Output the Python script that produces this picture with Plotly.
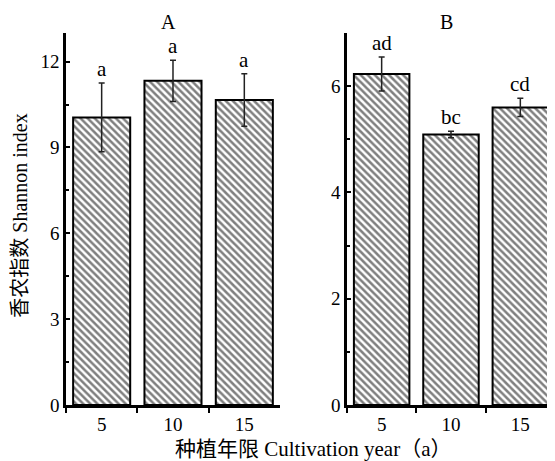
import plotly.graph_objects as go

years = ["5", "10", "15"]
a_values = [10.05, 11.33, 10.66]
a_err = [1.2, 0.72, 0.92]
a_letters = ["a", "a", "a"]
b_values = [6.23, 5.09, 5.60]
b_err = [0.32, 0.06, 0.17]
b_letters = ["ad", "bc", "cd"]

FONT = "Liberation Serif, Times New Roman, Noto Sans CJK SC, serif"

fig = go.Figure()

def bar(x, y, err, xa, ya):
    return go.Bar(
        x=x, y=y, xaxis=xa, yaxis=ya, width=0.8,
        marker=dict(color="white", line=dict(color="black", width=2),
                    pattern=dict(shape="\\", size=5, solidity=0.5,
                                 fgcolor="black", bgcolor="white")),
        error_y=dict(type="data", array=err, visible=True, color="#222",
                     thickness=1.5, width=3),
        showlegend=False,
    )

fig.add_trace(bar(years, a_values, a_err, "x", "y"))
fig.add_trace(bar(years, b_values, b_err, "x2", "y2"))

ann = []
for i, (v, e, t) in enumerate(zip(a_values, a_err, a_letters)):
    ann.append(dict(x=i, y=v + e, xref="x", yref="y", text=t, showarrow=False,
                    yanchor="bottom", yshift=0, font=dict(size=21)))
for i, (v, e, t) in enumerate(zip(b_values, b_err, b_letters)):
    ann.append(dict(x=i, y=v + e, xref="x2", yref="y2", text=t, showarrow=False,
                    yanchor="bottom", yshift=0, font=dict(size=21)))
ann.append(dict(x=0.190, y=1.0296, xref="paper", yref="paper", text="A", showarrow=False,
                yanchor="middle", font=dict(size=20)))
ann.append(dict(x=0.795, y=1.0296, xref="paper", yref="paper", text="B", showarrow=False,
                yanchor="middle", font=dict(size=20)))
ann.append(dict(x=-0.094, y=0.509, xref="paper", yref="paper", text="香农指数 Shannon index",
                showarrow=False, textangle=-90, xanchor="center", yanchor="middle",
                borderpad=0, font=dict(size=20)))
ann.append(dict(x=0.505, y=-0.118, xref="paper", yref="paper",
                text="种植年限 Cultivation year（a）", showarrow=False,
                xanchor="center", yanchor="middle", font=dict(size=21)))

xcommon = dict(type="category", tickson="boundaries", ticks="outside", ticklen=5,
               tickwidth=2, showline=True, linewidth=3, linecolor="black",
               tickcolor="black", range=[-0.5, 2.5], showgrid=False, zeroline=False,
               tickfont=dict(size=19))
ycommon = dict(ticks="inside", ticklen=4, tickwidth=2, showline=True, linewidth=2.5,
               linecolor="black", tickcolor="black", showgrid=False, zeroline=False,
               tickfont=dict(size=19))

# page body adds an 8px margin, so the figure is sized to fit the window
fig.update_layout(
    width=547, height=453,
    margin=dict(l=58, r=0, t=25, b=56),
    paper_bgcolor="white", plot_bgcolor="white",
    font=dict(family=FONT, color="black", size=19),
    bargap=0.2,
    xaxis=dict(domain=[0, 0.4376], anchor="y", **xcommon),
    xaxis2=dict(domain=[0.5746, 1.0], anchor="y2", **xcommon),
    yaxis=dict(range=[0, 13], tickvals=[0, 3, 6, 9, 12], anchor="x",
               minor=dict(dtick=1.5, tick0=0, ticks="inside", ticklen=3, tickwidth=2, tickcolor="black"),
               **ycommon),
    yaxis2=dict(range=[0, 7], tickvals=[0, 2, 4, 6], anchor="x2",
                minor=dict(dtick=1, tick0=0, ticks="inside", ticklen=3, tickwidth=2, tickcolor="black"),
                **ycommon),
    annotations=ann,
)

fig.write_html("out.html")
